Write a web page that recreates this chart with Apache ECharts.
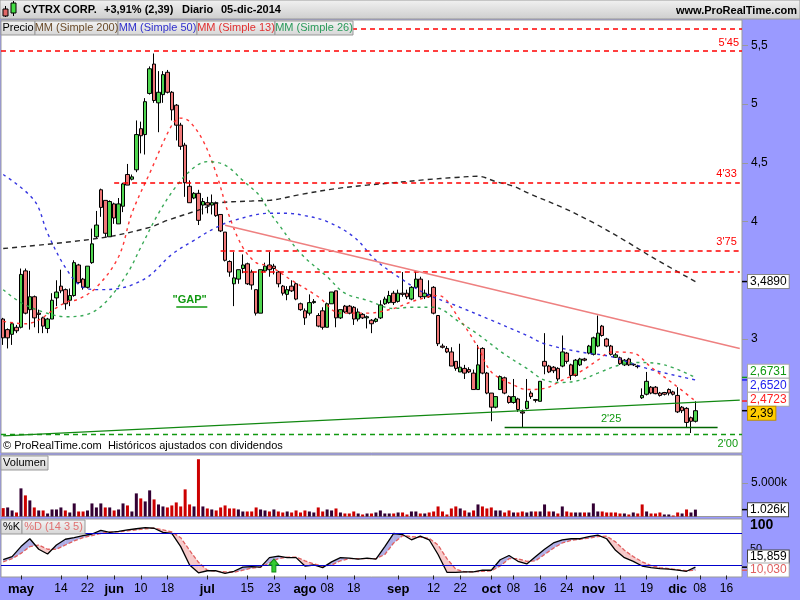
<!DOCTYPE html>
<html><head><meta charset="utf-8">
<script src="https://cdn.jsdelivr.net/npm/echarts@6/dist/echarts.min.js"></script>
<style>html,body{margin:0;padding:0;background:#9a9aff;}#c{width:800px;height:600px;}</style>
</head><body><div id="c"></div>
<script>
// ---------- DATA ----------
const holidays = ['2014-05-26','2014-07-04','2014-09-01','2014-11-27'];
const firstDay = '2014-04-25';
const nCategories = 167; // trading days shown on the axis (incl. empty future days)

// [open, close, low, high]
const ohlc = [
[3.17,3.01,2.95,3.18],[3.08,3.01,2.92,3.09],[3.04,3.13,2.95,3.14],[3.10,3.07,3.05,3.12],[3.10,3.55,3.09,3.60],
[3.58,3.22,3.21,3.60],[3.25,3.36,3.08,3.58],[3.36,3.18,3.10,3.37],[3.22,3.21,3.05,3.25],[3.18,3.11,3.05,3.19],
[3.09,3.17,3.05,3.18],[3.17,3.33,3.17,3.39],[3.35,3.40,3.28,3.50],[3.45,3.41,3.39,3.59],[3.42,3.30,3.25,3.43],
[3.33,3.37,3.28,3.43],[3.37,3.65,3.36,3.67],[3.63,3.48,3.47,3.64],[3.51,3.44,3.42,3.52],[3.44,3.62,3.43,3.62],
[3.65,3.81,3.64,3.94],[3.87,3.97,3.86,4.09],[4.27,4.12,4.04,4.28],[4.18,3.90,3.87,4.18],[3.87,4.17,3.87,4.18],
[4.15,4.03,3.98,4.16],[3.98,4.15,3.98,4.20],[4.13,4.32,4.08,4.33],[4.40,4.31,4.31,4.49],[4.36,4.38,4.35,4.40],
[4.44,4.74,4.42,4.86],[4.79,4.73,4.58,4.85],[4.74,5.02,4.57,5.05],[5.09,5.30,5.08,5.32],[5.34,5.03,5.01,5.43],
[5.01,5.10,4.76,5.28],[5.08,5.25,5.01,5.28],[5.27,5.10,5.09,5.29],[5.10,4.95,4.86,5.11],[4.99,4.82,4.69,5.00],
[4.82,4.64,4.61,4.84],[4.65,4.33,4.21,4.67],[4.30,4.16,4.16,4.35],[4.20,4.24,4.19,4.25],[4.24,4.01,3.97,4.27],
[4.14,4.17,4.06,4.20],[4.16,4.14,4.07,4.21],[4.14,4.16,4.06,4.23],[4.16,4.05,4.04,4.17],[4.06,3.92,3.91,4.06],
[3.91,3.67,3.66,3.91],[3.66,3.57,3.53,3.67],[3.47,3.52,3.28,3.74],[3.51,3.59,3.47,3.59],[3.60,3.63,3.56,3.72],
[3.64,3.47,3.46,3.65],[3.57,3.46,3.42,3.59],[3.42,3.22,3.20,3.42],[3.22,3.59,3.22,3.59],[3.58,3.62,3.57,3.65],
[3.63,3.59,3.53,3.74],[3.62,3.60,3.55,3.64],[3.57,3.47,3.44,3.58],[3.45,3.39,3.37,3.46],[3.38,3.42,3.33,3.45],
[3.45,3.41,3.40,3.50],[3.47,3.34,3.33,3.48],[3.30,3.25,3.24,3.31],[3.24,3.18,3.12,3.26],[3.22,3.31,3.20,3.38],
[3.31,3.32,3.30,3.34],[3.20,3.11,3.10,3.22],[3.24,3.10,3.08,3.27],[3.10,3.30,3.10,3.31],[3.30,3.40,3.30,3.40],
[3.41,3.18,3.10,3.41],[3.18,3.25,3.17,3.25],[3.28,3.23,3.22,3.29],[3.28,3.22,3.21,3.29],[3.27,3.17,3.12,3.28],
[3.17,3.23,3.15,3.26],[3.21,3.18,3.17,3.22],[3.18,3.19,3.09,3.20],[3.16,3.13,3.05,3.17],[3.15,3.17,3.14,3.18],
[3.18,3.29,3.17,3.33],[3.30,3.34,3.29,3.36],[3.31,3.37,3.30,3.41],[3.39,3.31,3.29,3.41],[3.32,3.39,3.31,3.42],
[3.39,3.38,3.36,3.57],[3.39,3.36,3.34,3.42],[3.34,3.44,3.33,3.45],[3.44,3.51,3.43,3.58],[3.51,3.36,3.35,3.53],
[3.36,3.39,3.34,3.42],[3.38,3.36,3.35,3.50],[3.44,3.22,3.21,3.45],[3.20,2.96,2.94,3.20],[2.94,2.93,2.92,2.96],
[2.92,2.89,2.88,2.94],[2.89,2.77,2.77,2.93],[2.81,2.75,2.73,2.81],[2.72,2.76,2.72,2.96],[2.75,2.71,2.66,2.78],
[2.74,2.72,2.71,2.76],[2.71,2.57,2.57,2.74],[2.57,2.78,2.57,2.95],[2.92,2.71,2.70,2.93],[2.71,2.54,2.53,2.72],
[2.54,2.42,2.30,2.54],[2.42,2.51,2.41,2.51],[2.57,2.68,2.57,2.69],[2.67,2.54,2.53,2.68],[2.51,2.46,2.45,2.52],
[2.46,2.51,2.45,2.66],[2.49,2.40,2.38,2.50],[2.38,2.37,2.25,2.40],[2.41,2.47,2.40,2.66],[2.54,2.51,2.49,2.56],
[2.485,2.478,2.46,2.49],[2.47,2.64,2.47,2.64],[2.81,2.77,2.70,3.05],[2.77,2.72,2.71,2.78],[2.76,2.73,2.71,2.77],
[2.75,2.66,2.64,2.76],[2.77,2.89,2.76,3.03],[2.88,2.81,2.79,2.89],[2.78,2.69,2.65,2.79],[2.69,2.82,2.68,2.83],
[2.78,2.83,2.77,2.84],[2.83,2.82,2.81,2.84],[2.88,2.94,2.87,2.95],[2.87,3.01,2.86,3.02],[2.94,3.05,2.93,3.20],
[3.11,3.03,3.02,3.12],[3.00,2.94,2.93,3.01],[2.94,2.87,2.86,2.95],[2.845,2.865,2.84,2.88],[2.84,2.79,2.78,2.85],
[2.78,2.82,2.77,2.83],[2.83,2.78,2.77,2.84],[2.78,2.785,2.77,2.79],[2.77,2.765,2.75,2.78],[2.50,2.52,2.49,2.58],
[2.53,2.64,2.52,2.72],[2.59,2.54,2.53,2.60],[2.59,2.535,2.53,2.60],[2.54,2.52,2.51,2.55],[2.545,2.53,2.52,2.55],
[2.57,2.54,2.52,2.58],[2.55,2.53,2.52,2.56],[2.52,2.38,2.37,2.59],[2.42,2.39,2.37,2.43],[2.41,2.29,2.25,2.42],
[2.33,2.30,2.20,2.34],[2.30,2.39,2.29,2.47]
];

// volume in thousands of shares
const volume = [1250,1350,900,600,4200,3150,2400,1350,900,900,450,1050,1050,1350,900,600,1950,750,750,900,1950,1350,1950,1350,1350,900,1050,1950,1650,750,3450,2700,2250,3900,2550,1800,1500,1350,1650,2100,1500,4050,1800,1500,8550,1500,1200,1050,900,1350,1650,1200,1200,1050,750,750,750,1350,
1050,900,750,1050,750,600,750,600,900,600,900,750,600,1350,750,1050,900,1200,600,450,450,750,450,300,450,450,600,900,450,450,450,600,600,300,750,750,450,450,600,750,1500,750,300,1200,1500,1200,900,600,900,1800,1500,1200,1350,900,900,
600,900,600,600,750,600,750,750,750,1800,750,750,450,1500,750,600,600,600,600,600,1950,750,750,600,600,600,450,450,300,600,450,1800,750,450,450,600,300,300,150,600,450,1050,600,1026];

const ma200 = [['2014-04-25',3.77],['2014-05-28',3.86],['2014-06-12',3.95],['2014-06-18',4.01],['2014-06-30',4.11],['2014-07-03',4.155],['2014-07-16',4.175],['2014-07-22',4.18],['2014-07-31',4.23],['2014-08-12',4.28],['2014-08-21',4.31],['2014-08-29',4.33],['2014-09-10',4.355],['2014-09-19',4.375],['2014-09-26',4.385],['2014-10-02',4.34],['2014-10-08',4.30],['2014-10-14',4.23],['2014-10-23',4.12],['2014-11-03',3.99],['2014-11-12',3.84],['2014-11-21',3.68],['2014-12-05',3.489]];
const ma50 = [['2014-04-25',4.40],['2014-05-06',4.18],['2014-05-09',3.90],['2014-05-15',3.61],['2014-05-21',3.44],['2014-05-28',3.42],['2014-06-03',3.43],['2014-06-06',3.46],['2014-06-12',3.54],['2014-06-19',3.72],['2014-06-26',3.84],['2014-07-03',3.95],['2014-07-10',4.01],['2014-07-22',4.07],['2014-07-28',4.07],['2014-08-01',4.05],['2014-08-08',4.00],['2014-08-18',3.87],['2014-08-25',3.67],['2014-09-02',3.53],['2014-09-10',3.39],['2014-09-22',3.27],['2014-10-01',3.16],['2014-10-08',3.08],['2014-10-13',3.03],['2014-10-17',2.96],['2014-10-29',2.89],['2014-11-07',2.85],['2014-11-19',2.75],['2014-12-05',2.652]];
const ma13 = [['2014-04-25',3.15],['2014-05-02',3.13],['2014-05-15',3.31],['2014-05-20',3.34],['2014-05-27',3.44],['2014-06-03',3.70],['2014-06-06',4.07],['2014-06-12',4.41],['2014-06-19',4.82],['2014-06-23',4.88],['2014-06-25',4.85],['2014-06-30',4.69],['2014-07-03',4.41],['2014-07-09',4.04],['2014-07-14',3.78],['2014-07-17',3.65],['2014-07-22',3.62],['2014-07-29',3.50],['2014-08-06',3.36],['2014-08-13',3.22],['2014-08-21',3.22],['2014-08-29',3.26],['2014-09-08',3.33],['2014-09-15',3.37],['2014-09-22',3.16],['2014-09-26',2.93],['2014-10-01',2.72],['2014-10-08',2.61],['2014-10-13',2.57],['2014-10-17',2.58],['2014-10-23',2.65],['2014-10-29',2.72],['2014-11-04',2.82],['2014-11-07',2.89],['2014-11-14',2.88],['2014-11-20',2.76],['2014-11-28',2.62],['2014-12-05',2.4723]];
const ma26 = [['2014-04-25',3.42],['2014-05-01',3.31],['2014-05-08',3.23],['2014-05-15',3.19],['2014-05-22',3.21],['2014-05-29',3.31],['2014-06-05',3.56],['2014-06-10',3.78],['2014-06-16',4.07],['2014-06-20',4.30],['2014-06-26',4.46],['2014-07-01',4.51],['2014-07-08',4.48],['2014-07-14',4.35],['2014-07-18',4.21],['2014-07-22',4.08],['2014-07-24',3.98],['2014-07-31',3.73],['2014-08-08',3.53],['2014-08-14',3.39],['2014-08-21',3.33],['2014-08-29',3.26],['2014-09-05',3.27],['2014-09-12',3.27],['2014-09-22',3.14],['2014-09-26',3.04],['2014-10-06',2.87],['2014-10-13',2.75],['2014-10-17',2.65],['2014-10-23',2.63],['2014-10-29',2.65],['2014-11-04',2.71],['2014-11-11',2.78],['2014-11-17',2.80],['2014-11-25',2.78],['2014-12-05',2.6731]];

// stochastic %K / %D (14 3 5), read every 2nd trading day
const stochStep = 2;
const stochK = [30,36,55,70,50,41,58,69,72,76,79,86,82,84,87,89,91,90,82,80,55,20,5,9,9,4,8,16,17,16,34,37,34,34,18,20,15,26,34,33,31,33,31,55,80,78,68,75,68,40,6,6,7,7,10,10,30,38,27,22,36,50,62,68,70,70,74,77,70,48,34,27,18,15,13,12,10,8,15.859];
const stochD = [26,32,42,55,58,50,50,58,66,72,76,80,83,83,85,87,89,90,87,83,72,48,25,10,8,7,6,10,14,16,24,32,35,35,28,22,18,20,28,32,32,32,32,40,62,76,74,73,71,58,32,12,7,7,8,9,18,32,32,27,28,40,52,62,67,69,71,74,75,64,48,36,26,19,15,13,11,9,10.03];

const tickDates = ['2014-05-01','2014-05-14','2014-05-22','2014-06-02','2014-06-10','2014-06-18','2014-07-01','2014-07-15','2014-07-23','2014-08-01','2014-08-08','2014-08-18','2014-09-02','2014-09-12','2014-09-22','2014-10-01','2014-10-08','2014-10-16','2014-10-24','2014-11-03','2014-11-11','2014-11-19','2014-12-01','2014-12-08','2014-12-16'];
const tickLabels = ['may','14','22','jun','10','18','jul','15','23','ago','08','18','sep','12','22','oct','08','16','24','nov','11','19','dic','08','16'];
const monthLabels = ['may','jun','jul','ago','sep','oct','nov','dic'];

const priceAxisValues = [3,4,4.5,5,5.5];
// horizontal levels: value, label text, start date (null = whole width), colour
const hLevels = [
  {v:5.64, text:'', from:null, color:'#ff0000'},
  {v:5.45, text:"5'45", from:null, color:'#ff0000'},
  {v:4.33, text:"4'33", from:'2014-06-02', color:'#ff0000'},
  {v:3.75, text:"3'75", from:'2014-07-07', color:'#ff0000'},
  {v:3.57, text:'', from:'2014-07-14', color:'#ff0000'},
];
const level200 = {v:2.19, text:"2'00"};
const support = {from:['2014-10-06',2.25], to:['2014-12-12',2.25], text:"2'25"};
const trendDown = [['2014-07-08',3.968],['2014-12-19',2.919]];
const trendUp = [['2014-04-25',2.176],['2014-12-19',2.48]];
const gapNote = {date:'2014-06-25', price:3.33, lineFrom:'2014-06-20', lineTo:'2014-07-01', linePrice:3.272};
const arrowSignal = {date:'2014-07-23', value:19};

// ---------- BUILD ----------
const dates = [];
(function(){ let d = new Date(firstDay+'T00:00:00Z');
  while (dates.length < nCategories) { const wd=d.getUTCDay(); const s=d.toISOString().slice(0,10);
    if (wd!==0 && wd!==6 && holidays.indexOf(s)<0) dates.push(s); d.setUTCDate(d.getUTCDate()+1);} })();
const lastDate = dates[dates.length-1];

const FONT = '"Liberation Sans", Arial, sans-serif';
const UP='#4fd64f', DOWN='#f07878';
const candleData = ohlc.map(r=>[r[0],r[1],r[2],r[3]]);
const volData = volume.map((v,i)=>({value:v, itemStyle:{color: (ohlc[i][1] >= (i?ohlc[i-1][1]:ohlc[i][0])) ? '#330033' : '#cc0000'}}));
const stochIdx = stochK.map((_,j)=>j*stochStep);
const kData = stochK.map((v,j)=>[stochIdx[j], v]);
const dData = stochD.map((v,j)=>[stochIdx[j], v]);
const fillData = [];
for (let j=0;j<stochK.length-1;j++) fillData.push([stochIdx[j],stochK[j],stochD[j],stochIdx[j+1],stochK[j+1],stochD[j+1]]);

const markLines = [];
hLevels.forEach(l=>{
  const st = {lineStyle:{color:l.color,type:[5,4],width:1.5}, label:{show:!!l.text, formatter:l.text, position:'insideEndTop', color:l.color, fontSize:11, fontFamily:FONT, distance:3}};
  if (l.from) markLines.push([Object.assign({coord:[l.from,l.v]}, st), {coord:[lastDate,l.v]}]);
  else markLines.push(Object.assign({yAxis:l.v}, st));
});
markLines.push({yAxis:level200.v, lineStyle:{color:'#119911',type:[5,4],width:1.3}, label:{show:true, formatter:level200.text, position:'insideEndBottom', color:'#119911', fontSize:11, fontFamily:FONT, distance:4}});
markLines.push([{coord:support.from, lineStyle:{color:'#006600',type:'solid',width:1.3}, label:{show:true,formatter:support.text,position:'middle',color:'#119911',fontSize:11,fontFamily:FONT,distance:3}},{coord:support.to}]);
markLines.push([{coord:trendDown[0], lineStyle:{color:'#ee8080',type:'solid',width:1.5}, label:{show:false}},{coord:trendDown[1]}]);
markLines.push([{coord:trendUp[0], lineStyle:{color:'#118811',type:'solid',width:1.3}, label:{show:false}},{coord:trendUp[1]}]);
markLines.push([{coord:[gapNote.lineFrom,gapNote.linePrice], lineStyle:{color:'#119911',type:'solid',width:1.5}, label:{show:false}},{coord:[gapNote.lineTo,gapNote.linePrice]}]);

function maSeries(name, data, color, dash){
  return {name, type:'line', xAxisIndex:0, yAxisIndex:0, data, smooth:0.35, symbol:'none', silent:true, z:4,
    lineStyle:{color, width:1.4, type:dash, opacity:0.9}};
}
const commonX = {type:'category', data:dates, boundaryGap:true, axisLine:{show:false}, axisTick:{show:false}, axisLabel:{show:false}, splitLine:{show:false}};
const isTick = (i, v) => tickDates.indexOf(v) >= 0;

const chart = echarts.init(document.getElementById('c'), null, {renderer:'canvas'});
chart.setOption({
  animation:false,
  backgroundColor:'#9a9aff',
  textStyle:{fontFamily:FONT},
  grid:[
    {left:1, right:58, top:20, bottom:147, show:true, backgroundColor:'#fff', borderColor:'#999', borderWidth:1},
    {left:1, right:58, top:455, bottom:83.5, show:true, backgroundColor:'#fff', borderColor:'#999', borderWidth:1},
    {left:1, right:58, top:519, bottom:23, show:true, backgroundColor:'#fff', borderColor:'#999', borderWidth:1}
  ],
  xAxis:[
    Object.assign({gridIndex:0}, commonX),
    Object.assign({gridIndex:1}, commonX),
    Object.assign({}, commonX, {gridIndex:2,
      axisTick:{show:true, interval:isTick, alignWithLabel:true, length:4, lineStyle:{color:'#222'}},
      axisLabel:{show:true, interval:isTick, margin:6,
        formatter:(v)=>{ const k=tickDates.indexOf(v); const t=tickLabels[k]; return monthLabels.indexOf(t)>=0 ? '{m|'+t+'}' : '{d|'+t+'}'; },
        rich:{m:{fontSize:13, fontWeight:'bold', color:'#000', fontFamily:FONT}, d:{fontSize:12, color:'#000', fontFamily:FONT}}}})
  ],
  yAxis:[
    {type:'value', gridIndex:0, position:'right', min:2.03, max:5.715, splitLine:{show:false}, axisLine:{show:false},
      axisTick:{show:true, customValues:priceAxisValues, length:6, lineStyle:{color:'#999'}},
      axisLabel:{customValues:priceAxisValues, formatter:v=>String(v).replace('.',','), color:'#000', fontSize:12, margin:9, fontFamily:FONT}},
    {type:'value', gridIndex:1, position:'right', min:0, max:9179, splitLine:{show:false}, axisLine:{show:false},
      axisTick:{show:true, customValues:[5000], length:6, lineStyle:{color:'#999'}},
      axisLabel:{customValues:[5000], formatter:v=>(v/1000).toFixed(3)+'k', color:'#000', fontSize:12, margin:9, fontFamily:FONT}},
    {type:'value', gridIndex:2, position:'right', min:-2.9, max:107.6, splitLine:{show:false}, axisLine:{show:false},
      axisTick:{show:false},
      axisLabel:{customValues:[50,100], margin:8, formatter:v=> v===100 ? '{b|100}' : '{s|50}',
        rich:{b:{fontSize:14,fontWeight:'bold',color:'#000',fontFamily:FONT, padding:[4,0,0,0]}, s:{fontSize:11,color:'#000',fontFamily:FONT}}}}
  ],
  series:[
    {name:'Precio', type:'candlestick', xAxisIndex:0, yAxisIndex:0, data:candleData, barWidth:4, z:3,
      itemStyle:{color:UP, color0:DOWN, borderColor:'#000', borderColor0:'#000', borderWidth:1},
      markLine:{silent:true, symbol:['none','none'], animation:false, data:markLines},
      markPoint:{silent:true, data:[{coord:[gapNote.date,gapNote.price], symbol:'rect', symbolSize:1, itemStyle:{color:'rgba(0,0,0,0)'},
        label:{show:true, formatter:'"GAP"', position:'inside', color:'#119911', fontWeight:'bold', fontSize:11, fontFamily:FONT}}]}},
    maSeries('MM (Simple 200)', ma200, '#111', [5,4]),
    maSeries('MM (Simple 50)', ma50, '#2020dd', [3,4]),
    maSeries('MM (Simple 13)', ma13, '#ff2020', [3,4]),
    maSeries('MM (Simple 26)', ma26, '#22a044', [3,4]),
    {name:'Volumen', type:'bar', xAxisIndex:1, yAxisIndex:1, data:volData, barWidth:3},
    {type:'custom', xAxisIndex:2, yAxisIndex:2, data:fillData, encode:{x:[0,3], y:[1,2,4,5]}, silent:true, z:1,
      renderItem:(params, api)=>{
        const x0=api.value(0),k0=api.value(1),d0=api.value(2),x1=api.value(3),k1=api.value(4),d1=api.value(5);
        const pk0=api.coord([x0,k0]), pd0=api.coord([x0,d0]), pk1=api.coord([x1,k1]), pd1=api.coord([x1,d1]);
        const BL='rgba(110,110,210,0.55)', PK='rgba(240,150,150,0.5)';
        const a=k0-d0, b=k1-d1; const ch=[];
        if (a*b >= 0) {
          ch.push({type:'polygon', shape:{points:[pk0,pk1,pd1,pd0]}, style:{fill:(a+b)>=0?BL:PK}});
        } else {
          const t=a/(a-b); const pc=[pk0[0]+t*(pk1[0]-pk0[0]), pk0[1]+t*(pk1[1]-pk0[1])];
          ch.push({type:'polygon', shape:{points:[pk0,pc,pd0]}, style:{fill:a>0?BL:PK}});
          ch.push({type:'polygon', shape:{points:[pc,pk1,pd1]}, style:{fill:b>0?BL:PK}});
        }
        return {type:'group', children:ch};
      }},
    {name:'%D', type:'line', xAxisIndex:2, yAxisIndex:2, data:dData, symbol:'none', silent:true, z:3,
      lineStyle:{color:'#e06060', width:1.3, type:[4,2]}},
    {name:'%K', type:'line', xAxisIndex:2, yAxisIndex:2, data:kData, symbol:'none', silent:true, z:4,
      lineStyle:{color:'#000', width:1.3},
      markLine:{silent:true, symbol:['none','none'], label:{show:false}, lineStyle:{color:'#0000cc', type:'solid', width:1.2}, data:[{yAxis:80},{yAxis:20}]},
      markPoint:{silent:true, data:[{coord:[arrowSignal.date, arrowSignal.value], symbol:'path://M5,0 L10,6 L7,6 L7,13 L3,13 L3,6 L0,6 Z', symbolSize:[10,13], itemStyle:{color:'#33cc33', borderColor:'#118811', borderWidth:1}, label:{show:false}}]}}
  ]
});

// ---------- labels / decorations ----------
function btn(x, y, w, text, color){
  return [{type:'rect', shape:{x:x,y:y,width:w,height:14}, style:{fill:new echarts.graphic.LinearGradient(0,0,0,1,[{offset:0,color:'#f4f4f4'},{offset:1,color:'#d6d6d6'}]), stroke:'#999', lineWidth:1}, z:200},
          {type:'text', x:x+w/2, y:y+7, style:{text, fill:color, font:'11px '+FONT, align:'center', verticalAlign:'middle'}, z:201}];
}
function valBox(y, text, color, bg, border, tickColor){
  return [{type:'line', shape:{x1:742,y1:y.v,x2:747,y2:y.v}, style:{stroke:tickColor, lineWidth:1.5}, z:150},
          {type:'text', x:748, y:y.py, style:{text, fill:color, font:'12px '+FONT, verticalAlign:'middle', backgroundColor:bg, borderColor:border, borderWidth:1, padding:[1,2,0,2]}, z:160}];
}
function spread(items, h){
  items.sort((a,b)=>a.v-b.v);
  let groups = items.map(it=>({m:[it], c:it.v}));
  let changed = true;
  while(changed){ changed=false;
    for(let i=0;i<groups.length-1;i++){ const A=groups[i],B=groups[i+1];
      if (A.c + A.m.length*h/2 > B.c - B.m.length*h/2){ const m=A.m.concat(B.m); const c=m.reduce((s,x)=>s+x.v,0)/m.length; groups.splice(i,2,{m,c}); changed=true; break; } } }
  groups.forEach(g=>{ const n=g.m.length; g.m.forEach((it,k)=>{ it.py=g.c+(k-(n-1)/2)*h; }); });
  return items;
}
const px = (axis, v) => chart.convertToPixel({yAxisIndex:axis}, v);
const lastClose = ohlc[ohlc.length-1][1];
const fmt = (v,d)=>v.toFixed(d).replace('.',',');
const priceLabels = [
  {v:px(0, ma200[ma200.length-1][1]), text:fmt(ma200[ma200.length-1][1],4), color:'#000', bg:'#fff', border:'#888', tick:'#000'},
  {v:px(0, ma26[ma26.length-1][1]), text:fmt(ma26[ma26.length-1][1],4), color:'#119911', bg:'#fff', border:'#aaa', tick:'#119911'},
  {v:px(0, ma50[ma50.length-1][1]), text:fmt(ma50[ma50.length-1][1],4), color:'#2020ee', bg:'#fff', border:'#aaa', tick:'#2020ee'},
  {v:px(0, ma13[ma13.length-1][1]), text:fmt(ma13[ma13.length-1][1],4), color:'#ff2020', bg:'#fff', border:'#aaa', tick:'#ff2020'},
  {v:px(0, lastClose), text:fmt(lastClose,2), color:'#000', bg:'#ffcc00', border:'#c09000', tick:'#000'}
];
spread(priceLabels, 14);
const stLabels = [
  {v:px(2, stochK[stochK.length-1]), text:fmt(stochK[stochK.length-1],3), color:'#000', bg:'#fff', border:'#444', tick:'#000'},
  {v:px(2, stochD[stochD.length-1]), text:fmt(stochD[stochD.length-1],3), color:'#e06060', bg:'#fff', border:'#aaa', tick:'#e06060'}
];
spread(stLabels, 13);
const over = Math.max(...stLabels.map(s=>s.py)) - 570; if (over>0) stLabels.forEach(s=>s.py-=over);
const lastVol = volume[volume.length-1];
const volLabel = [{v:px(1,lastVol), py:px(1,lastVol), text:(lastVol/1000).toFixed(3)+'k', color:'#000', bg:'#fff', border:'#444', tick:'#000'}];

const g = [];
// title bar
g.push({type:'rect', shape:{x:0,y:0,width:800,height:19}, style:{fill:new echarts.graphic.LinearGradient(0,0,0,1,[{offset:0,color:'#f2f2f2'},{offset:1,color:'#cdcdcd'}]), stroke:'#999', lineWidth:1}, z:200});
g.push({type:'line', shape:{x1:5.5,y1:6,x2:5.5,y2:17}, style:{stroke:'#000'}, z:201});
g.push({type:'rect', shape:{x:3,y:9,width:5,height:7}, style:{fill:'#e06666', stroke:'#000'}, z:202});
g.push({type:'line', shape:{x1:13.5,y1:1,x2:13.5,y2:16}, style:{stroke:'#000'}, z:201});
g.push({type:'rect', shape:{x:11,y:3,width:5,height:10}, style:{fill:'#44dd44', stroke:'#000'}, z:202});
[['CYTRX CORP.',23],['+3,91% (2,39)',104],['Diario',182],['05-dic-2014',221]].forEach(t=>g.push({type:'text', x:t[1], y:10, style:{text:t[0], fill:'#000', font:'bold 11px '+FONT, verticalAlign:'middle'}, z:203}));
g.push({type:'text', x:797, y:11, style:{text:'www.ProRealTime.com', fill:'#000', font:'bold 11px '+FONT, align:'right', verticalAlign:'middle'}, z:203});
// legend buttons
g.push(...btn(1,21,34,'Precio','#000'));
g.push(...btn(35,21,83,'MM (Simple 200)','#6b4c2a'));
g.push(...btn(118,21,79,'MM (Simple 50)','#3030cc'));
g.push(...btn(197,21,78,'MM (Simple 13)','#e03030'));
g.push(...btn(275,21,78,'MM (Simple 26)','#2a9a5a'));
g.push(...btn(1,456,47,'Volumen','#000'));
g.push(...btn(1,520,21,'%K','#000'));
g.push(...btn(22,520,63,'%D (14 3 5)','#e07070'));
// footer
g.push({type:'text', x:3, y:446, style:{text:'© ProRealTime.com  Históricos ajustados con dividendos', fill:'#000', font:'11px '+FONT, verticalAlign:'middle'}, z:203});
priceLabels.concat(stLabels, volLabel).forEach(l=>g.push(...valBox(l, l.text, l.color, l.bg, l.border, l.tick)));
chart.setOption({graphic:g});
</script></body></html>
